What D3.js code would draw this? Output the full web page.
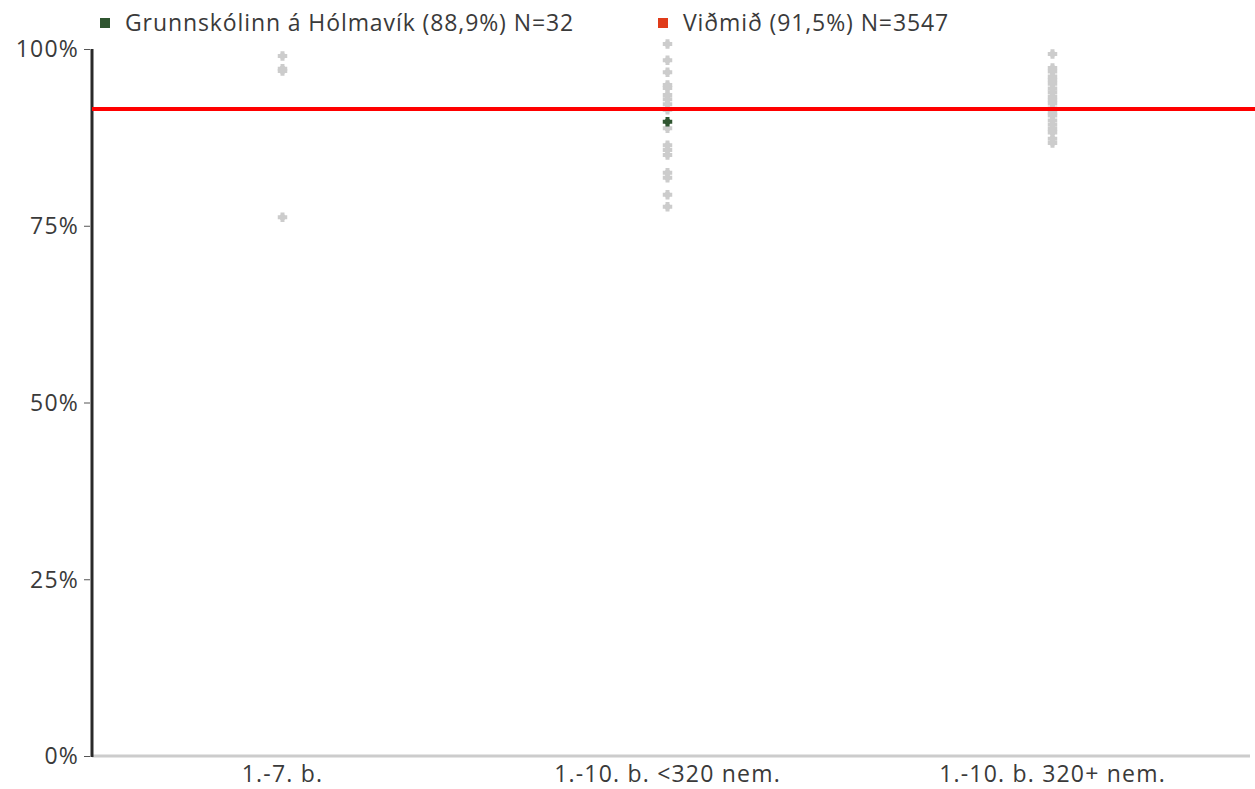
<!DOCTYPE html>
<html>
<head>
<meta charset="utf-8">
<script src="https://cdn.jsdelivr.net/npm/d3@7"></script>
<style>
  html, body { margin: 0; padding: 0; background: #fff; }
  svg text { font-family: "Open Sans", Lato, sans-serif; fill: #3a3a3a; }
</style>
</head>
<body>
<svg id="chart" width="1255" height="789"></svg>
<script>
const categories = ["1.-7. b.", "1.-10. b. <320 nem.", "1.-10. b. 320+ nem."];
const otherSchools = [
  [99.0, 97.2, 96.9, 76.2],
  [100.7, 98.4, 96.7, 94.9, 94.5, 93.5, 92.9, 92.2, 91.4, 88.8, 86.4, 85.7, 85.0, 82.5, 81.8, 79.4, 77.7],
  [99.3, 97.3, 96.8, 96.1, 95.6, 95.1, 94.4, 93.9, 93.3, 92.8, 92.3, 91.6, 91.0, 90.6, 89.9, 89.3, 88.7, 88.2, 87.3, 86.7]
];
const school = { category: "1.-10. b. <320 nem.", value: 89.7 };
const benchmark = 91.5;
const yTicks = [0, 25, 50, 75, 100];
const legendLabels = ["Grunnskólinn á Hólmavík (88,9%) N=32", "Viðmið (91,5%) N=3547"];
const legendColors = ["#2f5530", "#e03c1a"];

const svg = d3.select("#chart");
const x = d3.scaleBand().domain(categories).range([90, 1245]);
const y = d3.scaleLinear().domain([0, 100]).range([756, 49]);

const FONT = "'Open Sans', Lato, sans-serif";

// y axis
const yAxis = svg.append("g").attr("transform", "translate(92,0)")
  .call(d3.axisLeft(y).tickValues(yTicks).tickFormat(d => d + "%").tickSize(6).tickPadding(2));
yAxis.select(".domain").remove();
yAxis.selectAll(".tick line").attr("stroke", "#555").attr("stroke-width", 1).attr("x2", -8).attr("x1", -2);
yAxis.selectAll(".tick text").attr("font-size", 23).attr("fill", "#3a3a3a").attr("x", -13)
  .attr("dy", "0.34em").style("font-family", FONT).style("letter-spacing", "1.2px");

// x axis
const xAxis = svg.append("g").attr("transform", "translate(0,756)")
  .call(d3.axisBottom(x).tickSize(0).tickPadding(10));
xAxis.select(".domain").remove();
xAxis.selectAll(".tick text").attr("font-size", 23).attr("fill", "#3a3a3a")
  .style("font-family", FONT).style("letter-spacing", "1.2px");
svg.append("line").attr("x1", 92).attr("x2", 1250).attr("y1", y(0)).attr("y2", y(0))
  .attr("stroke", "#cccccc").attr("stroke-width", 3);
svg.append("line").attr("x1", 92).attr("x2", 92).attr("y1", y(100)).attr("y2", y(0) + 1)
  .attr("stroke", "#2a2a2a").attr("stroke-width", 3);

// custom marker: plus merged with diamond
const blob = {
  draw(ctx, size) {
    const r = Math.sqrt(size) / 2;
    const a = r * 0.42;
    ctx.moveTo(0, -r); ctx.lineTo(r, 0); ctx.lineTo(0, r); ctx.lineTo(-r, 0); ctx.closePath();
    ctx.moveTo(-a, -r); ctx.lineTo(a, -r); ctx.lineTo(a, -a); ctx.lineTo(r, -a); ctx.lineTo(r, a);
    ctx.lineTo(a, a); ctx.lineTo(a, r); ctx.lineTo(-a, r); ctx.lineTo(-a, a); ctx.lineTo(-r, a);
    ctx.lineTo(-r, -a); ctx.lineTo(-a, -a); ctx.closePath();
  }
};
const sym = d3.symbol().type(blob).size(90);
const pts = [];
categories.forEach((c, i) => otherSchools[i].forEach(v => pts.push({ c, v })));
svg.append("g").selectAll("path").data(pts).join("path")
  .attr("d", sym)
  .attr("transform", d => `translate(${x(d.c) + x.bandwidth() / 2},${y(d.v)})`)
  .attr("fill", "#cccccc");

// benchmark line
svg.append("line").attr("x1", 92).attr("x2", 1255).attr("y1", y(benchmark)).attr("y2", y(benchmark))
  .attr("stroke", "#ff0000").attr("stroke-width", 4);

// school point
svg.append("path").attr("d", sym)
  .attr("transform", `translate(${x(school.category) + x.bandwidth() / 2},${y(school.value)})`)
  .attr("fill", "#2f5530");

// legend
const legendX = [100, 658];
legendLabels.forEach((t, i) => {
  svg.append("rect").attr("x", legendX[i]).attr("y", 18).attr("width", 10).attr("height", 10).attr("fill", legendColors[i]);
  svg.append("text").attr("x", legendX[i] + 25).attr("y", 31).attr("font-size", 23)
    .style("letter-spacing", "0.9px").text(t);
});
</script>
</body>
</html>
